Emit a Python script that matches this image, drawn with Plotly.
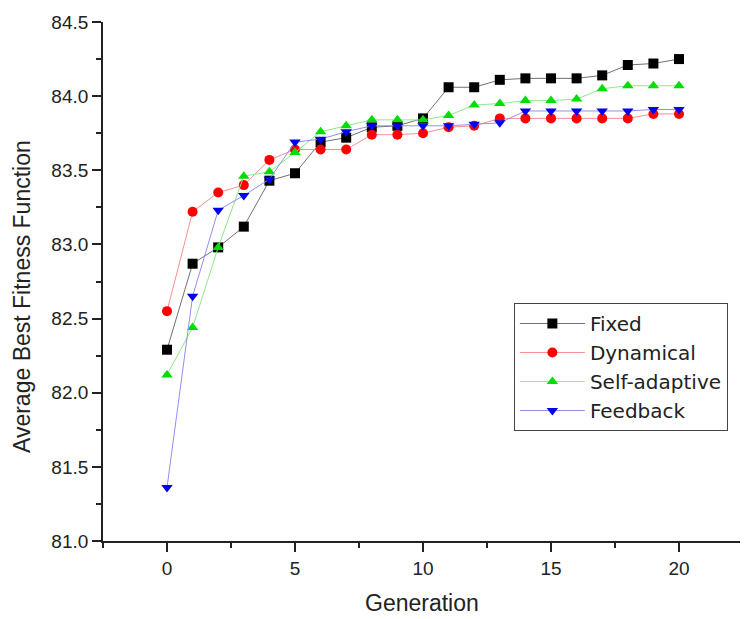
import plotly.graph_objects as go

generation = list(range(21))
fixed = [82.29, 82.87, 82.98, 83.12, 83.43, 83.48, 83.69, 83.72, 83.79, 83.80, 83.85,
         84.06, 84.06, 84.11, 84.12, 84.12, 84.12, 84.14, 84.21, 84.22, 84.25]
dynamical = [82.55, 83.22, 83.35, 83.40, 83.57, 83.64, 83.64, 83.64, 83.74, 83.74, 83.75,
             83.79, 83.80, 83.85, 83.85, 83.85, 83.85, 83.85, 83.85, 83.88, 83.88]
self_adaptive = [82.12, 82.44, 82.98, 83.46, 83.49, 83.62, 83.76, 83.80, 83.84, 83.84, 83.84,
                 83.87, 83.94, 83.95, 83.97, 83.97, 83.98, 84.05, 84.07, 84.07, 84.07]
feedback = [81.36, 82.65, 83.23, 83.33, 83.44, 83.69, 83.71, 83.76, 83.80, 83.80, 83.80,
            83.80, 83.81, 83.82, 83.90, 83.90, 83.90, 83.90, 83.90, 83.91, 83.91]

x_ticks = [0, 5, 10, 15, 20]
y_ticks = [81.0, 81.5, 82.0, 82.5, 83.0, 83.5, 84.0, 84.5]

series = [
    ("Fixed", fixed, "#000000", "#707070", "square"),
    ("Dynamical", dynamical, "#ff0000", "#f59090", "circle"),
    ("Self-adaptive", self_adaptive, "#00dd00", "#90e890", "triangle-up"),
    ("Feedback", feedback, "#0000ee", "#9090f0", "triangle-down"),
]

FONT = "Liberation Sans, Arial"
TXT = "#222222"

fig = go.Figure()
for name, ys, mc, lc, sym in series:
    fig.add_trace(go.Scatter(
        x=generation, y=ys, name=name, mode="lines+markers",
        line=dict(color=lc, width=1),
        marker=dict(color=mc, symbol=sym, size=10, line=dict(width=0)),
    ))

axis_common = dict(
    showline=True, linecolor="#222", linewidth=1.8, mirror=False,
    ticks="outside", ticklen=9, tickwidth=1.8, tickcolor="#222",
    showgrid=False, zeroline=False,
    tickfont=dict(family=FONT, size=19, color=TXT),
)

fig.update_xaxes(
    range=[-2.5, 22.5], tickvals=x_ticks,
    minor=dict(tickvals=[-2.5, 2.5, 7.5, 12.5, 17.5, 22.5], ticks="outside",
               ticklen=5, tickwidth=1.8, tickcolor="#222"),
    **axis_common,
)
fig.update_yaxes(
    range=[81.0, 84.5], tickvals=y_ticks, tickformat=".1f",
    minor=dict(dtick=0.25, ticks="outside", ticklen=5, tickwidth=1.8, tickcolor="#222"),
    **axis_common,
)

fig.add_annotation(text="Generation", xref="paper", yref="paper",
                   x=0.4977, y=-0.1195, xanchor="center", yanchor="middle",
                   showarrow=False, font=dict(family=FONT, size=23, color=TXT))
fig.add_annotation(text="Average Best Fitness Function", xref="paper", yref="paper",
                   x=-0.1266, y=0.472, xanchor="center", yanchor="middle", textangle=-90,
                   showarrow=False, font=dict(family=FONT, size=23, color=TXT))

fig.update_layout(
    width=740, height=611,
    margin=dict(l=95, r=5, t=14, b=78),
    plot_bgcolor="white", paper_bgcolor="white",
    legend=dict(
        x=0.642, y=0.4586, xanchor="left", yanchor="top",
        bordercolor="#444", borderwidth=1, bgcolor="white",
        font=dict(family="DejaVu Sans, Liberation Sans", size=20, color=TXT),
        tracegroupgap=0, itemwidth=65,
    ),
    showlegend=True,
)

fig.write_html("out.html")
